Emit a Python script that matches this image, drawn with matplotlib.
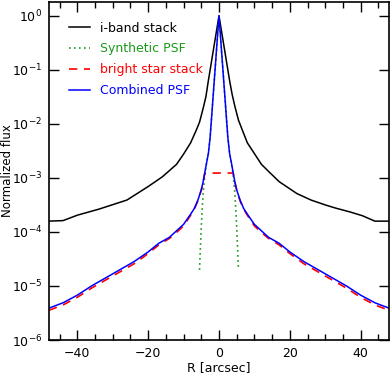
import numpy as np
import matplotlib
matplotlib.use('Agg')
import matplotlib.pyplot as plt
from matplotlib.ticker import MultipleLocator, NullLocator

# radius (arcsec) and log10 of normalized flux
r_iband = [-48, -44, -40, -34, -26, -20, -16, -12, -10, -8, -6.5, -5.5, -4.5, -3.7, -3, -2, -1, 0,
           1, 2, 3, 3.7, 4.5, 5.5, 6.5, 8, 10, 12, 14, 17, 22, 26, 30, 33, 37, 40.5, 44, 48]
log_iband = [-3.80, -3.79, -3.69, -3.58, -3.41, -3.16, -2.98, -2.75, -2.56, -2.35, -2.13, -1.97, -1.72, -1.50, -1.20, -0.80, -0.40, 0.0,
             -0.40, -0.80, -1.20, -1.45, -1.68, -1.93, -2.10, -2.35, -2.55, -2.75, -2.88, -3.07, -3.29, -3.41, -3.50, -3.56, -3.63, -3.70, -3.80, -3.80]

r_synth = [-5.5, -5, -4.5, -4, -3.5, -3, -2.5, -2, -1.5, -1, -0.5, 0,
           0.5, 1, 1.5, 2, 2.5, 3, 3.5, 4, 4.5, 5, 5.5]
log_synth = [-4.70, -3.90, -3.30, -2.95, -2.72, -2.55, -2.25, -1.80, -1.35, -0.90, -0.45, 0.0,
             -0.45, -0.90, -1.35, -1.80, -2.25, -2.55, -2.72, -2.95, -3.30, -3.90, -4.70]

r_bright = [-48, -44, -40, -36, -32, -28, -24, -20, -17, -14, -12, -10, -8, -7, -6, -5, -4.5, -4,
            4, 4.5, 5, 6, 7, 8, 10, 12, 14, 17, 20, 24, 28, 32, 36, 40, 44, 48]
log_bright = [-5.45, -5.35, -5.21, -5.04, -4.89, -4.74, -4.59, -4.40, -4.24, -4.12, -4.01, -3.89, -3.69, -3.58, -3.43, -3.23, -3.08, -2.91,
              -2.91, -3.08, -3.23, -3.43, -3.58, -3.69, -3.89, -4.01, -4.12, -4.24, -4.40, -4.59, -4.74, -4.89, -5.04, -5.21, -5.35, -5.45]

r_comb = [-48, -44, -40, -36, -32, -28, -24, -20, -17, -14, -12, -10, -8, -7, -6, -5, -4.5, -4, -3.5, -3,
          -2.5, -2, -1.5, -1, -0.5, 0, 0.5, 1, 1.5, 2, 2.5,
          3, 3.5, 4, 4.5, 5, 6, 7, 8, 10, 12, 14, 17, 20, 24, 28, 32, 36, 40, 44, 48]
log_comb = [-5.41, -5.31, -5.17, -5.00, -4.85, -4.70, -4.55, -4.37, -4.21, -4.10, -3.98, -3.86, -3.67, -3.57, -3.42, -3.22, -3.08, -2.90, -2.72, -2.55,
            -2.25, -1.80, -1.35, -0.90, -0.45, 0.0, -0.45, -0.90, -1.35, -1.80, -2.25,
            -2.55, -2.72, -2.90, -3.08, -3.22, -3.42, -3.57, -3.67, -3.86, -3.98, -4.10, -4.21, -4.37, -4.55, -4.70, -4.85, -5.00, -5.17, -5.31, -5.41]

labels = ['i-band stack', 'Synthetic PSF', 'bright star stack', 'Combined PSF']
colors = ['black', '#1a9a1a', 'red', 'blue']
x_ticks = [-40, -20, 0, 20, 40]
y_ticks = [1e-6, 1e-5, 1e-4, 1e-3, 1e-2, 1e-1, 1e0]

plt.rcParams['font.family'] = ['DejaVu Sans']
plt.rcParams['mathtext.fontset'] = 'dejavusans'

fig = plt.figure(figsize=(3.9, 3.76), dpi=100)
ax = fig.add_axes([0.1256, 0.0957, 0.8718, 0.899])

lw = 1.1
ax.plot(r_iband, 10 ** np.array(log_iband), color=colors[0], lw=lw, label=labels[0])
ax.plot(r_synth, 10 ** np.array(log_synth), color=colors[1], lw=1.2, ls=(0, (1, 2)), label=labels[1])
ax.plot(r_bright, 10 ** np.array(log_bright), color=colors[2], lw=1.2, ls=(0, (5, 4)), label=labels[2])
ax.plot(r_comb, 10 ** np.array(log_comb), color=colors[3], lw=lw, label=labels[3])

ax.set_yscale('log')
ax.set_xlim(-48, 48)
ax.set_ylim(1e-6, 1.8)
ax.set_xticks(x_ticks)
ax.set_yticks(y_ticks)
ax.xaxis.set_minor_locator(MultipleLocator(5))
ax.yaxis.set_minor_locator(NullLocator())

ax.tick_params(which='both', direction='in', top=True, right=True, labelsize=9, width=1.0)
ax.tick_params(which='major', length=7, pad=5)
ax.tick_params(which='minor', length=4)
for s in ax.spines.values():
    s.set_linewidth(1.2)

ax.set_xlabel('R [arcsec]', fontsize=9, labelpad=1)
ax.set_ylabel('Normalized flux', fontsize=8.5)
ax.yaxis.set_label_coords(-0.103, 0.5)

leg = ax.legend(loc='upper left', frameon=False, fontsize=9, handlelength=1.7,
                handletextpad=0.8, labelspacing=0.62, bbox_to_anchor=(0.025, 0.975))
for txt, c in zip(leg.get_texts(), colors):
    txt.set_color(c)

fig.savefig('out.png', dpi=100)
